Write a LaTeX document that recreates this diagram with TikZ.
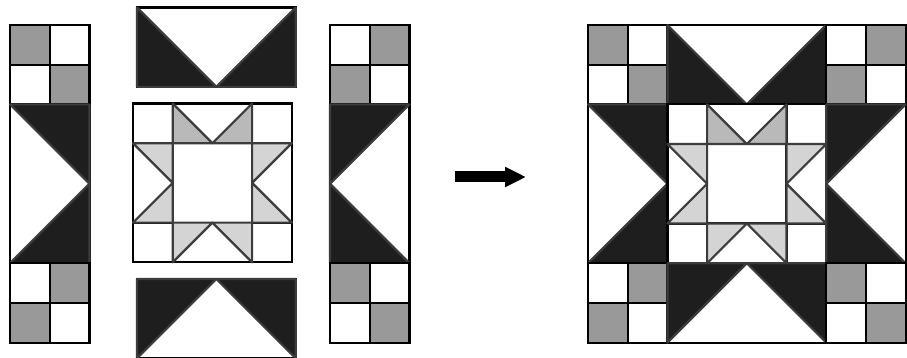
\documentclass[tikz,border=0pt]{standalone}
\usetikzlibrary{arrows.meta}
\definecolor{qdark}{HTML}{1E1E1E}
\definecolor{qmid}{HTML}{999999}
\definecolor{qlight}{HTML}{D4D4D4}
\definecolor{qlighttwo}{HTML}{B9B9B9}
\definecolor{qedge}{HTML}{3C3C3C}
\tikzset{
  sqline/.style={draw=black, line width=2.2pt},
  triline/.style={draw=qedge, line width=2.2pt, line join=round},
  darktri/.style={triline, fill=qdark},
  lighttri/.style={triline, fill=qlight},
  midtri/.style={triline, fill=qlighttwo},
  unitgrid/.style={x=39.7pt, y=-39.7pt}
}
% 2x2 patch: TL, TR, BL, BR colours
\newcommand{\qfourpatch}[4]{%
  \fill[#1] (0,0) rectangle (1,1);
  \fill[#2] (1,0) rectangle (2,1);
  \fill[#3] (0,1) rectangle (1,2);
  \fill[#4] (1,1) rectangle (2,2);
  \draw[sqline] (0,0) rectangle (2,2) (1,0) -- (1,2) (0,1) -- (2,1);
}
% 2x4 side piece, white point towards the right
\newcommand{\qsideright}{%
  \fill[white] (0,0) rectangle (2,4);
  \draw[sqline] (0,0) rectangle (2,4);
  \draw[darktri] (0,0) -- (2,0) -- (2,2) -- cycle;
  \draw[darktri] (2,2) -- (2,4) -- (0,4) -- cycle;
}
% 2x4 side piece, white point towards the left
\newcommand{\qsideleft}{%
  \fill[white] (0,0) rectangle (2,4);
  \draw[sqline] (0,0) rectangle (2,4);
  \draw[darktri] (0,0) -- (2,0) -- (0,2) -- cycle;
  \draw[darktri] (0,2) -- (0,4) -- (2,4) -- cycle;
}
% 4x2 geese, white V pointing down
\newcommand{\qgeesetop}{%
  \fill[white] (0,0) rectangle (4,2);
  \draw[sqline] (0,0) rectangle (4,2);
  \draw[darktri] (0,0) -- (0,2) -- (2,2) -- cycle;
  \draw[darktri] (4,0) -- (4,2) -- (2,2) -- cycle;
}
% 4x2 geese, white point up
\newcommand{\qgeesebot}{%
  \fill[white] (0,0) rectangle (4,2);
  \draw[sqline] (0,0) rectangle (4,2);
  \draw[darktri] (0,0) -- (2,0) -- (0,2) -- cycle;
  \draw[darktri] (4,0) -- (2,0) -- (4,2) -- cycle;
}
% 4x4 centre star block
\newcommand{\qcentre}{%
  \fill[white] (0,0) rectangle (4,4);
  \draw[sqline] (0,0) rectangle (4,4);
  \draw[sqline] (1,0) -- (1,4) (3,0) -- (3,4) (0,1) -- (4,1) (0,3) -- (4,3);
  \draw[midtri] (1,0) -- (1,1) -- (2,1) -- cycle;
  \draw[midtri] (3,0) -- (3,1) -- (2,1) -- cycle;
  \draw[lighttri] (0,1) -- (1,1) -- (1,2) -- cycle;
  \draw[lighttri] (0,3) -- (1,3) -- (1,2) -- cycle;
  \draw[lighttri] (4,1) -- (3,1) -- (3,2) -- cycle;
  \draw[lighttri] (4,3) -- (3,3) -- (3,2) -- cycle;
  \draw[lighttri] (1,4) -- (1,3) -- (2,3) -- cycle;
  \draw[lighttri] (3,4) -- (3,3) -- (2,3) -- cycle;
}
\begin{document}
\begin{tikzpicture}[x=1pt, y=-1pt]
\useasboundingbox (0,0) rectangle (907,358);
\fill[white] (0,0) rectangle (907,358);

% ---- left column
\begin{scope}[shift={(10,25)}, unitgrid]
  \qfourpatch{qmid}{white}{white}{qmid}
  \begin{scope}[shift={(0,2)}] \qsideright \end{scope}
  \begin{scope}[shift={(0,6)}] \qfourpatch{white}{qmid}{qmid}{white} \end{scope}
\end{scope}

% ---- top geese
\begin{scope}[shift={(137,7.5)}, unitgrid] \qgeesetop \end{scope}
% ---- centre block
\begin{scope}[shift={(133,103.5)}, unitgrid] \qcentre \end{scope}
% ---- bottom geese
\begin{scope}[shift={(137,279)}, unitgrid] \qgeesebot \end{scope}

% ---- right column
\begin{scope}[shift={(330,25)}, unitgrid]
  \qfourpatch{white}{qmid}{qmid}{white}
  \begin{scope}[shift={(0,2)}] \qsideleft \end{scope}
  \begin{scope}[shift={(0,6)}] \qfourpatch{qmid}{white}{white}{qmid} \end{scope}
\end{scope}

% ---- arrow
\coordinate (arrS) at (455,177);
\coordinate (arrE) at (526,177);
\draw[line width=11pt, -{Triangle[length=21pt, width=19pt]}] (arrS) -- (arrE);

% ---- result block
\begin{scope}[shift={(588,25)}, unitgrid]
  \qfourpatch{qmid}{white}{white}{qmid}
  \begin{scope}[shift={(2,0)}] \qgeesetop \end{scope}
  \begin{scope}[shift={(6,0)}] \qfourpatch{white}{qmid}{qmid}{white} \end{scope}
  \begin{scope}[shift={(0,2)}] \qsideright \end{scope}
  \begin{scope}[shift={(2,2)}] \qcentre \end{scope}
  \begin{scope}[shift={(6,2)}] \qsideleft \end{scope}
  \begin{scope}[shift={(0,6)}] \qfourpatch{white}{qmid}{qmid}{white} \end{scope}
  \begin{scope}[shift={(2,6)}] \qgeesebot \end{scope}
  \begin{scope}[shift={(6,6)}] \qfourpatch{qmid}{white}{white}{qmid} \end{scope}
\end{scope}
\end{tikzpicture}
\end{document}
